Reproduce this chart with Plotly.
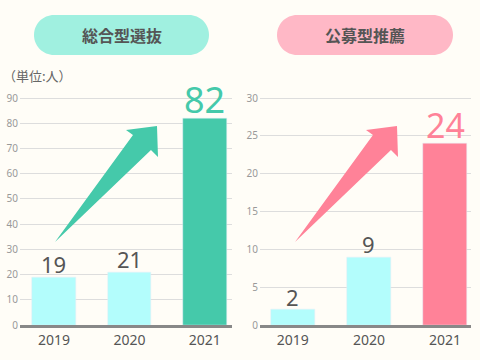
import plotly.graph_objects as go

years = ["2019", "2020", "2021"]
sogo_values = [19, 21, 82]
kobo_values = [2, 9, 24]
sogo_title = "総合型選抜"
kobo_title = "公募型推薦"
unit_label = "（単位:人）"
left_ticks = [0, 10, 20, 30, 40, 50, 60, 70, 80, 90]
right_ticks = [0, 5, 10, 15, 20, 25, 30]

W, H = 480, 360
BG = "#fffdf7"
CYAN = "#b3fdfc"
TEAL = "#45c9aa"
PINK = "#ff8298"
MINT_PILL = "#a0f0e0"
PINK_PILL = "#ffb8c6"
FONT = "Noto Sans, Noto Sans CJK JP, sans-serif"
JFONT = "Noto Sans CJK JP, Noto Sans, sans-serif"


def X(px):
    return px / W


def Y(py):
    return 1 - py / H


def pt(p):
    return f"{X(p[0]):.5f},{Y(p[1]):.5f}"


def pill_path(x0, x1, y0, y1):
    r = (y1 - y0) / 2
    yc = (y0 + y1) / 2
    k = 0.5523 * r
    s = f"M {pt((x0 + r, y0))} L {pt((x1 - r, y0))} "
    s += f"C {pt((x1 - r + k, y0))} {pt((x1, yc - k))} {pt((x1, yc))} "
    s += f"C {pt((x1, yc + k))} {pt((x1 - r + k, y1))} {pt((x1 - r, y1))} "
    s += f"L {pt((x0 + r, y1))} "
    s += f"C {pt((x0 + r - k, y1))} {pt((x0, yc + k))} {pt((x0, yc))} "
    s += f"C {pt((x0, yc - k))} {pt((x0 + r - k, y0))} {pt((x0 + r, y0))} Z"
    return s


def arrow_path(dx):
    pts = [(55, 242), (133, 135), (126, 130), (157, 126), (158, 157), (151, 150)]
    pts = [(x + dx, y) for x, y in pts]
    return "M " + " L ".join(pt(p) for p in pts) + " Z"


fig = go.Figure()
fig.add_trace(go.Bar(x=years, y=sogo_values, marker_color=[CYAN, CYAN, TEAL],
                     width=0.58, xaxis="x", yaxis="y", hoverinfo="skip"))
fig.add_trace(go.Bar(x=years, y=kobo_values, marker_color=[CYAN, CYAN, PINK],
                     width=0.58, xaxis="x2", yaxis="y2", hoverinfo="skip"))

y_dom = [Y(325), Y(85.4)]
axis_common = dict(showgrid=False, zeroline=False, ticks="",
                   tickfont=dict(family=FONT, size=14, color="#555"),
                   showline=True, linecolor="#888888", linewidth=3,
                   fixedrange=True, type="category")
yaxis_common = dict(showgrid=True, gridcolor="#dddddd", gridwidth=1,
                    zeroline=False, ticks="", showline=False,
                    tickfont=dict(family=FONT, size=10, color="#999"),
                    ticklabelstandoff=1, fixedrange=True)

fig.update_layout(
    width=W, height=H, autosize=False, margin=dict(l=0, r=0, t=0, b=0, autoexpand=False),
    paper_bgcolor=BG, plot_bgcolor=BG, showlegend=False, bargap=0,
    xaxis=dict(domain=[X(20), X(232)], range=[-0.45, 2.36], anchor="y", **axis_common),
    xaxis2=dict(domain=[X(260), X(471)], range=[-0.43, 2.34], anchor="y2", **axis_common),
    yaxis=dict(domain=y_dom, range=[0, 95], tickvals=left_ticks, anchor="x", **yaxis_common),
    yaxis2=dict(domain=y_dom, range=[0, 95 / 3], tickvals=right_ticks, anchor="x2", **yaxis_common),
)

shapes = [
    dict(type="path", xref="paper", yref="paper", path=pill_path(34, 209, 15, 55),
         fillcolor=MINT_PILL, line=dict(width=0), layer="below"),
    dict(type="path", xref="paper", yref="paper", path=pill_path(277, 453, 15, 55),
         fillcolor=PINK_PILL, line=dict(width=0), layer="below"),
    dict(type="path", xref="paper", yref="paper", path=arrow_path(0),
         fillcolor=TEAL, line=dict(width=0), layer="above"),
    dict(type="path", xref="paper", yref="paper", path=arrow_path(240),
         fillcolor=PINK, line=dict(width=0), layer="above"),
]
fig.update_layout(shapes=shapes)

annotations = [
    dict(text=f"<b>{sogo_title}</b>", x=X(122), y=Y(35), xref="paper", yref="paper",
         xanchor="center", yanchor="middle",
         showarrow=False, font=dict(family=JFONT, size=16, color="#555")),
    dict(text=f"<b>{kobo_title}</b>", x=X(365), y=Y(35), xref="paper", yref="paper",
         xanchor="center", yanchor="middle",
         showarrow=False, font=dict(family=JFONT, size=16, color="#555")),
    dict(text=unit_label, x=X(1), y=Y(75), xref="paper", yref="paper",
         xanchor="left", yanchor="middle",
         showarrow=False, font=dict(family=JFONT, size=13, color="#666")),
]
for i, v in enumerate(sogo_values):
    last = i == len(sogo_values) - 1
    annotations.append(dict(
        text=str(v), x=i, y=v, xref="x", yref="y", xanchor="center", yanchor="bottom",
        showarrow=False, yshift=-8 if last else -4,
        font=dict(family=FONT, size=36 if last else 22, color=TEAL if last else "#555")))
for i, v in enumerate(kobo_values):
    last = i == len(kobo_values) - 1
    annotations.append(dict(
        text=str(v), x=i, y=v, xref="x2", yref="y2", xanchor="center", yanchor="bottom",
        showarrow=False, yshift=-7 if last else -4,
        font=dict(family=FONT, size=34 if last else 22, color=PINK if last else "#555")))
fig.update_layout(annotations=annotations)

fig.write_html(
    "out.html",
    config={"displayModeBar": False, "responsive": False},
    post_script=(
        "document.documentElement.style.margin='0';"
        "document.documentElement.style.background='" + BG + "';"
        "document.body.style.margin='0';"
        "document.body.style.overflow='hidden';"
        "var gd=document.getElementById('{plot_id}');"
        "gd.style.width='480px';gd.style.height='360px';"
        "Plotly.relayout(gd,{width:480,height:360,autosize:false});"
    ),
)
